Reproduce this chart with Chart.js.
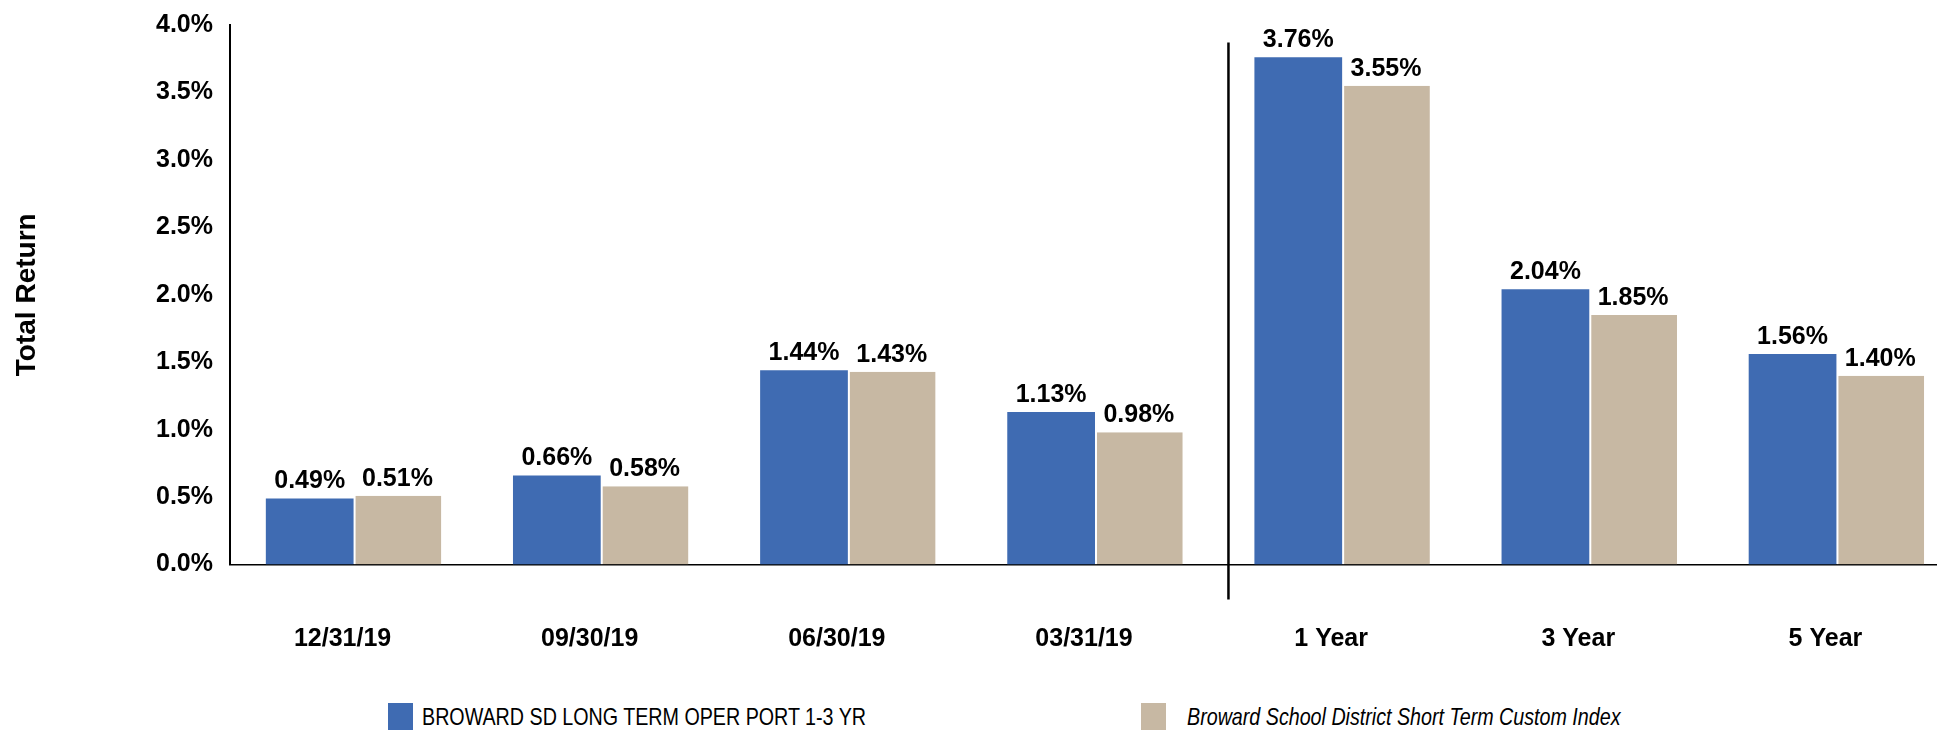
<!DOCTYPE html>
<html>
<head>
<meta charset="utf-8">
<script src="https://cdn.jsdelivr.net/npm/chart.js@4/dist/chart.umd.min.js"></script>
<style>
  html, body { margin: 0; padding: 0; background: #fff; overflow: hidden; width: 1937px; height: 730px; }
  #wrap { position: absolute; left: 0; top: 0; width: 1960px; height: 670px; }
  .box { position: absolute; top: 703px; width: 25px; height: 27px; }
  .txt { position: absolute; top: 703px; font-family: "Liberation Sans", Arial, sans-serif; font-size: 24px;
         line-height: 27px; white-space: nowrap; color: #000; transform: scaleX(0.82); transform-origin: left center; }
</style>
</head>
<body>
<div id="wrap"><canvas id="returns-chart" width="1960" height="670"></canvas></div>
<div class="box" id="box0" style="left:388px"></div>
<div class="txt" id="txt0" style="left:422px"></div>
<div class="box" id="box1" style="left:1141px"></div>
<div class="txt" id="txt1" style="left:1187px;font-style:italic"></div>
<script>
const categories = ["12/31/19", "09/30/19", "06/30/19", "03/31/19", "1 Year", "3 Year", "5 Year"];
const seriesNames = ["BROWARD SD LONG TERM OPER PORT 1-3 YR", "Broward School District Short Term Custom Index"];
const portfolioReturns = [0.49, 0.66, 1.44, 1.13, 3.76, 2.04, 1.56];
const indexReturns = [0.51, 0.58, 1.43, 0.98, 3.55, 1.85, 1.40];
const yTicks = [0, 0.5, 1.0, 1.5, 2.0, 2.5, 3.0, 3.5, 4.0];
const colors = ["#3F6BB2", "#C7B8A3"];

const fontFamily = "'Liberation Sans', Arial, sans-serif";
Chart.defaults.font.family = fontFamily;
Chart.defaults.color = "#000";

// value labels above each bar
const valueLabels = {
  id: "valueLabels",
  afterDatasetsDraw(chart) {
    const ctx = chart.ctx;
    ctx.save();
    ctx.font = "bold 25px " + fontFamily;
    ctx.fillStyle = "#000";
    ctx.textAlign = "center";
    ctx.textBaseline = "alphabetic";
    chart.data.datasets.forEach((ds, i) => {
      chart.getDatasetMeta(i).data.forEach((bar, j) => {
        ctx.fillText(ds.data[j].toFixed(2) + "%", bar.x, bar.y - 10);
      });
    });
    ctx.restore();
  }
};

// vertical divider between quarters and annualised periods
const divider = {
  id: "divider",
  afterDatasetsDraw(chart) {
    const x = chart.scales.x, y = chart.scales.y;
    const step = x.getPixelForTick(4) - x.getPixelForTick(3);
    const px = x.getPixelForTick(4) - 0.46 * step;
    const ctx = chart.ctx;
    ctx.save();
    ctx.strokeStyle = "#000";
    ctx.lineWidth = 2.5;
    ctx.beginPath();
    ctx.moveTo(px, y.getPixelForValue(3.87));
    ctx.lineTo(px, y.getPixelForValue(0) + 35);
    ctx.stroke();
    ctx.restore();
  }
};

let ctx = document.getElementById("returns-chart").getContext("2d");

let returnsChart = new Chart(ctx, {
  type: "bar",
  data: {
    labels: categories,
    datasets: [
      {
        label: seriesNames[0],
        data: portfolioReturns,
        backgroundColor: colors[0],
        borderWidth: 0
      },
      {
        label: seriesNames[1],
        data: indexReturns,
        backgroundColor: colors[1],
        borderColor: "#fff",
        borderWidth: { left: 2, top: 0, right: 0, bottom: 0 }
      }
    ]
  },
  options: {
    responsive: false,
    animation: false,
    devicePixelRatio: 1,
    categoryPercentage: 0.71,
    barPercentage: 1.0,
    layout: { padding: { top: 25, left: 0, right: 0, bottom: 0 } },
    plugins: {
      legend: { display: false },
      tooltip: { enabled: false }
    },
    scales: {
      x: {
        grid: { display: false, drawTicks: false },
        border: { color: "#000", width: 1.5 },
        ticks: { font: { size: 25, weight: "bold" }, padding: 60, labelOffset: -11, color: "#000" },
        afterFit: (scale) => { scale.height = 105.5; }
      },
      y: {
        min: 0,
        max: 4,
        grid: { display: false, drawTicks: false },
        border: { color: "#000", width: 2 },
        afterBuildTicks: (scale) => { scale.ticks = yTicks.map(v => ({ value: v })); },
        ticks: {
          font: { size: 25, weight: "bold" },
          padding: 17,
          color: "#000",
          callback: (v) => Number(v).toFixed(1) + "%"
        },
        title: {
          display: true,
          text: "Total Return",
          font: { size: 28, weight: "bold" },
          color: "#000",
          padding: { top: 10, bottom: 0 }
        },
        afterFit: (scale) => {
          scale.width = 230;
          scale.paddingTop = 0;
          scale.paddingBottom = 0;
        }
      }
    }
  },
  plugins: [valueLabels, divider]
});

// html legend
seriesNames.forEach((name, i) => {
  document.getElementById("box" + i).style.background = colors[i];
  document.getElementById("txt" + i).textContent = name;
});
</script>
</body>
</html>
